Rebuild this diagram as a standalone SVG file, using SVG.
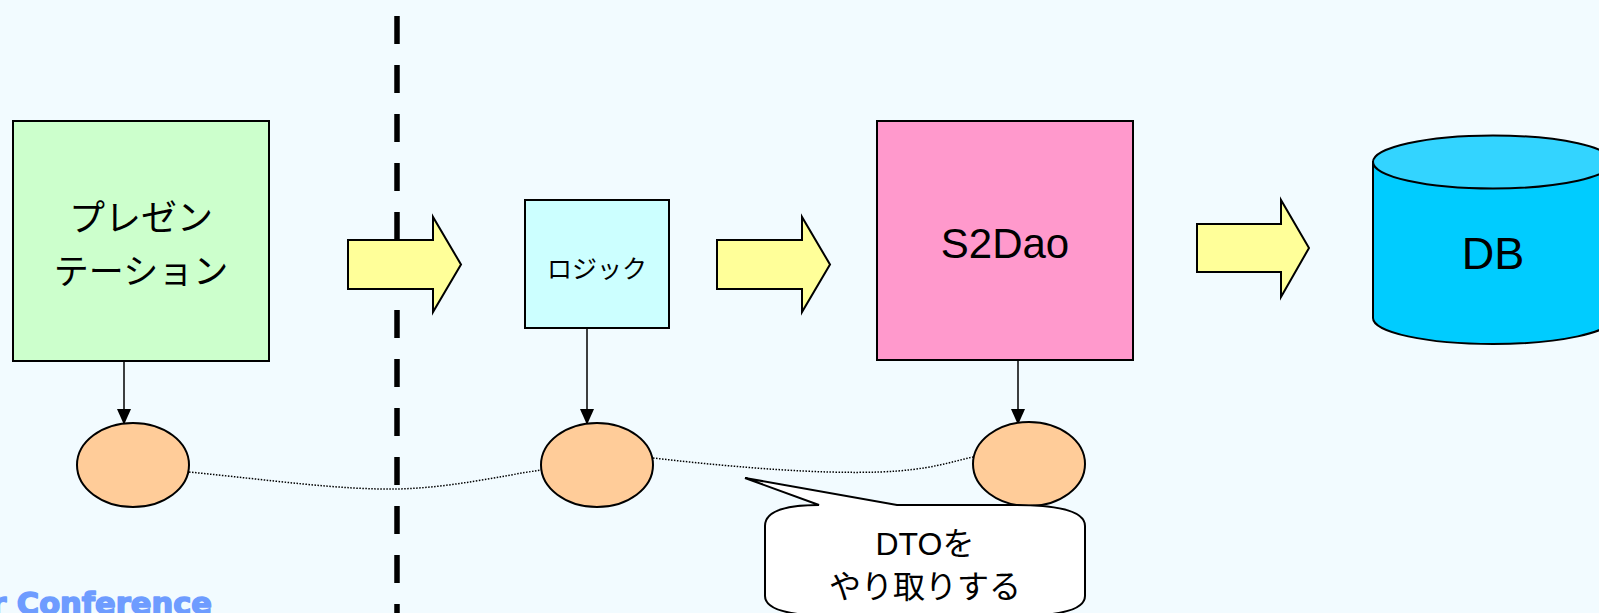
<svg xmlns="http://www.w3.org/2000/svg" width="1599" height="613" viewBox="0 0 1599 613">
<defs>
<style>
.box{stroke:#000;stroke-width:2}
.jp{font-family:"Liberation Sans","Noto Sans CJK JP",sans-serif;fill:#000;text-anchor:middle}
.blk{fill:#ffff99;stroke:#000;stroke-width:2;stroke-linejoin:miter}
.ell{fill:#ffcc99;stroke:#000;stroke-width:2}
.dn{stroke:#000;stroke-width:1.5;fill:none}
.dot{stroke:#000;stroke-width:1.5;fill:none;stroke-dasharray:1.5 1.5}
</style>
<marker id="ahd" markerWidth="16" markerHeight="18" refX="16" refY="8" orient="auto" markerUnits="userSpaceOnUse" viewBox="0 0 18 16">
<path d="M0,0 L18,8 L0,16 Z" fill="#000"/>
</marker>
</defs>
<rect width="1599" height="613" fill="#f2fbff"/>

<g id="divider">
<line x1="397" y1="16" x2="397" y2="613" stroke="#000" stroke-width="5.5" stroke-dasharray="28 21"/>
</g>

<g id="connectors">
<polygon class="blk" points="348,240 433,240 433,217 461,264.5 433,312 433,289 348,289"/>
<polygon class="blk" points="717,240 802,240 802,217 830,264.5 802,312 802,289 717,289"/>
<polygon class="blk" points="1197,224 1281,224 1281,200 1309,248 1281,297 1281,272 1197,272"/>
<line class="dn" x1="124" y1="361" x2="124" y2="423" marker-end="url(#ahd)"/>
<line class="dn" x1="587" y1="329" x2="587" y2="423" marker-end="url(#ahd)"/>
<line class="dn" x1="1018" y1="361" x2="1018" y2="423" marker-end="url(#ahd)"/>
<path class="dot" d="M189,472 C270,480 340,490 397,489 C450,488 500,476 541,470"/>
<path class="dot" d="M653,458 C740,468 820,474 880,472 C930,470 950,462 973,457"/>
</g>

<g id="presentation">
<rect class="box" x="13" y="121" width="256" height="240" fill="#ccffcc"/>
<text class="jp" x="141" y="231" font-size="36">プレゼン</text>
<text class="jp" x="141" y="284" font-size="35">テーション</text>
</g>

<g id="logic">
<rect class="box" x="525" y="200" width="144" height="128" fill="#ccffff"/>
<text class="jp" x="597" y="278" font-size="25">ロジック</text>
</g>

<g id="s2dao">
<rect class="box" x="877" y="121" width="256" height="239" fill="#ff99cc"/>
<text class="jp" x="1005" y="258" font-size="42">S2Dao</text>
</g>

<g id="db">
<path d="M1373,162 L1373,318 A120,26 0 0 0 1613,318 L1613,162 Z" fill="#00ccff" stroke="#000" stroke-width="2"/>
<ellipse cx="1493" cy="162" rx="120" ry="26.5" fill="#33d4ff" stroke="#000" stroke-width="2"/>
<text class="jp" x="1493" y="269" font-size="45">DB</text>
</g>

<g id="dto1"><ellipse class="ell" cx="133" cy="465" rx="56" ry="42"/></g>
<g id="dto2"><ellipse class="ell" cx="597" cy="465" rx="56" ry="42"/></g>
<g id="dto3"><ellipse class="ell" cx="1029" cy="464" rx="56" ry="42"/></g>

<g id="callout">
<path d="M765,526 Q765,505 819,505 L745,478 L897,505 L1015,505 Q1085,505 1085,526 L1085,596 Q1085,616 1015,616 L835,616 Q765,616 765,596 Z" fill="#ffffff" stroke="#000" stroke-width="2" stroke-linejoin="miter"/>
<text class="jp" x="925" y="555" font-size="32">DTOを</text>
<text class="jp" x="925" y="598" font-size="32">やり取りする</text>
</g>

<g id="footer">
<text x="212" y="614" text-anchor="end" font-family="DejaVu Sans, sans-serif" font-weight="bold" font-size="30.5" fill="#6e9cff" stroke="#6e9cff" stroke-width="1.6" stroke-linejoin="round">Seasar Conference</text>
</g>
</svg>
